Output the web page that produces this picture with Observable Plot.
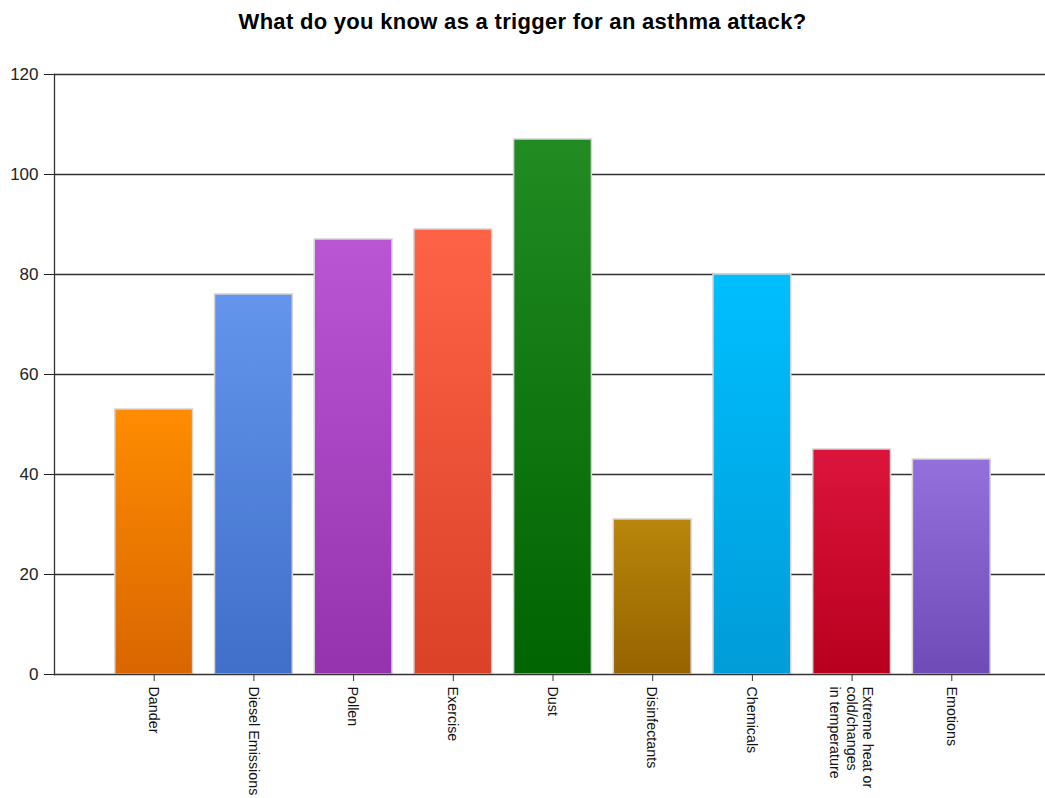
<!DOCTYPE html>
<html>
<head>
<meta charset="utf-8">
<script src="https://cdn.jsdelivr.net/npm/d3@7"></script>
<script src="https://cdn.jsdelivr.net/npm/@observablehq/plot@0.6"></script>
<style>
  body { margin: 0; background: #fff; font-family: "Liberation Sans", Arial, sans-serif; }
  #title { height: 50px; box-sizing: border-box; padding-top: 9px; text-align: center; font-weight: bold; font-size: 22px; letter-spacing: 0.3px; color: #000; line-height: 26px; }
  svg { display: block; }
</style>
</head>
<body>
<div id="title">What do you know as a trigger for an asthma attack?</div>
<div id="chart"></div>
<script>
const categories = ["Dander", "Diesel Emissions", "Pollen", "Exercise", "Dust", "Disinfectants", "Chemicals", "Extreme heat or cold/changes in temperature", "Emotions"];
const labels = ["Dander", "Diesel Emissions", "Pollen", "Exercise", "Dust", "Disinfectants", "Chemicals", "Extreme heat or\ncold/changes\nin temperature", "Emotions"];
const values = [53, 76, 87, 89, 107, 31, 80, 45, 43];
const topColors = ["#FF8C00", "#6495ED", "#BA55D3", "#FF6347", "#228B22", "#B8860B", "#00BFFF", "#DC143C", "#9370DB"];
const bottomColors = ["#D96600", "#3F6FC8", "#9533AE", "#DA4127", "#006400", "#966300", "#009CD8", "#B8001E", "#6F4BB7"];
const yTicks = [0, 20, 40, 60, 80, 100, 120];

const data = categories.map((c, i) => ({cat: c, label: labels[i], value: values[i], idx: i}));

const chart = Plot.plot({
  width: 1045,
  height: 748,
  marginTop: 24,
  marginBottom: 124,
  marginLeft: 54,
  marginRight: 0,
  style: {fontFamily: "'Liberation Sans', Arial, sans-serif", background: "#fff"},
  x: {domain: categories, range: [54, 1051], paddingInner: 0.22, paddingOuter: 0.61, round: false},
  y: {domain: [0, 120], ticks: yTicks},
  marks: [
    Plot.ruleY(yTicks.slice(1), {stroke: "#333", strokeWidth: 1.3}),
    ...data.map(d => Plot.barY([d], {x: "cat", y: "value", fill: `url(#grad${d.idx})`, stroke: "#d4d4d4", strokeWidth: 1.5})),
    Plot.ruleY([0], {stroke: "#333", strokeWidth: 1.3}),
    Plot.frame({anchor: "left", stroke: "#333", strokeWidth: 1.3}),
    Plot.axisY({ticks: yTicks, tickSize: 10, tickPadding: 6, fontSize: 17, label: null, color: "#222", tickFormat: d => d}),
    Plot.axisX({tickSize: 7, tickFormat: () => "", label: null, stroke: "#333"}),
    Plot.text(data, {x: "cat", text: "label", frameAnchor: "bottom", rotate: 90, textAnchor: "start", lineAnchor: "middle", dy: 12, fontSize: 14.3, fill: "#111", lineHeight: 1.15})
  ]
});

const svg = d3.select(chart);
const defs = svg.insert("defs", ":first-child");
topColors.forEach((c, i) => {
  const g = defs.append("linearGradient").attr("id", `grad${i}`).attr("x1", 0).attr("y1", 0).attr("x2", 0).attr("y2", 1);
  g.append("stop").attr("offset", "0%").attr("stop-color", c);
  g.append("stop").attr("offset", "100%").attr("stop-color", bottomColors[i]);
});
document.getElementById("chart").appendChild(chart);
</script>
</body>
</html>
